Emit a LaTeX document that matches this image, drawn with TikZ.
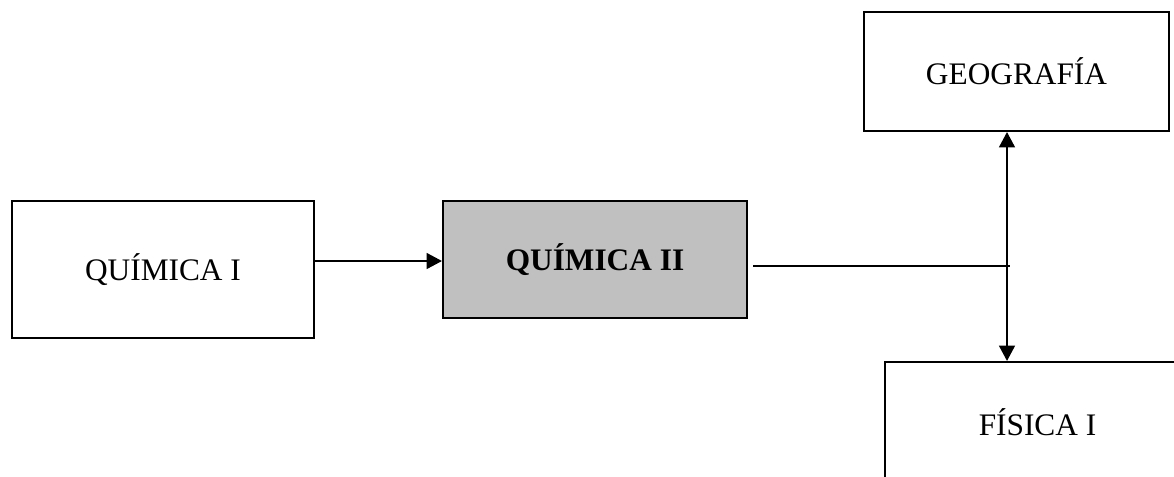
\documentclass[tikz,border=0pt]{standalone}
\usepackage{fontspec}
\setmainfont{Liberation Serif}
\usetikzlibrary{arrows.meta,calc}
\definecolor{boxgray}{HTML}{C0C0C0}
\begin{document}
\begin{tikzpicture}[x=0.75pt,y=-0.75pt,
  box/.style={draw=black,line width=1.6pt,rectangle,inner sep=0pt,
    font=\fontsize{23.5}{27}\selectfont},
  conn/.style={draw=black,line width=1.1pt},
  arr/.style={conn,-{Triangle[length=11.5pt,width=12pt]}},
  darr/.style={conn,{Triangle[length=11.5pt,width=12pt]}-{Triangle[length=11.5pt,width=12pt]}}]
\useasboundingbox (0,0) rectangle (1174,476);
\fill[white] (0,0) rectangle (1174,476);
\clip (0,0) rectangle (1174,476);
\node[box,minimum width=226.5pt,minimum height=102.75pt] (q1) at (163,269.5) {QUÍMICA I};
\node[box,fill=boxgray,minimum width=228pt,minimum height=87.75pt] (q2) at (595,259.5) {\textbf{QUÍMICA II}};
\node[box,minimum width=228.75pt,minimum height=89.25pt] (geo) at (1016.5,71.5) {GEOGRAFÍA};
\node[box,minimum width=229pt,minimum height=90pt] (fis) at (1037.5,422) {FÍSICA I};
\coordinate (j) at (1010,266);
\draw[arr] (q1.east |- 0,261) -- (q2.west |- 0,261);
\draw[conn] ($(q2.east |- 0,266)+(5,0)$) -- (j);
\draw[darr] (geo.south -| 1007,0) -- (fis.north -| 1007,0);
\end{tikzpicture}
\end{document}
